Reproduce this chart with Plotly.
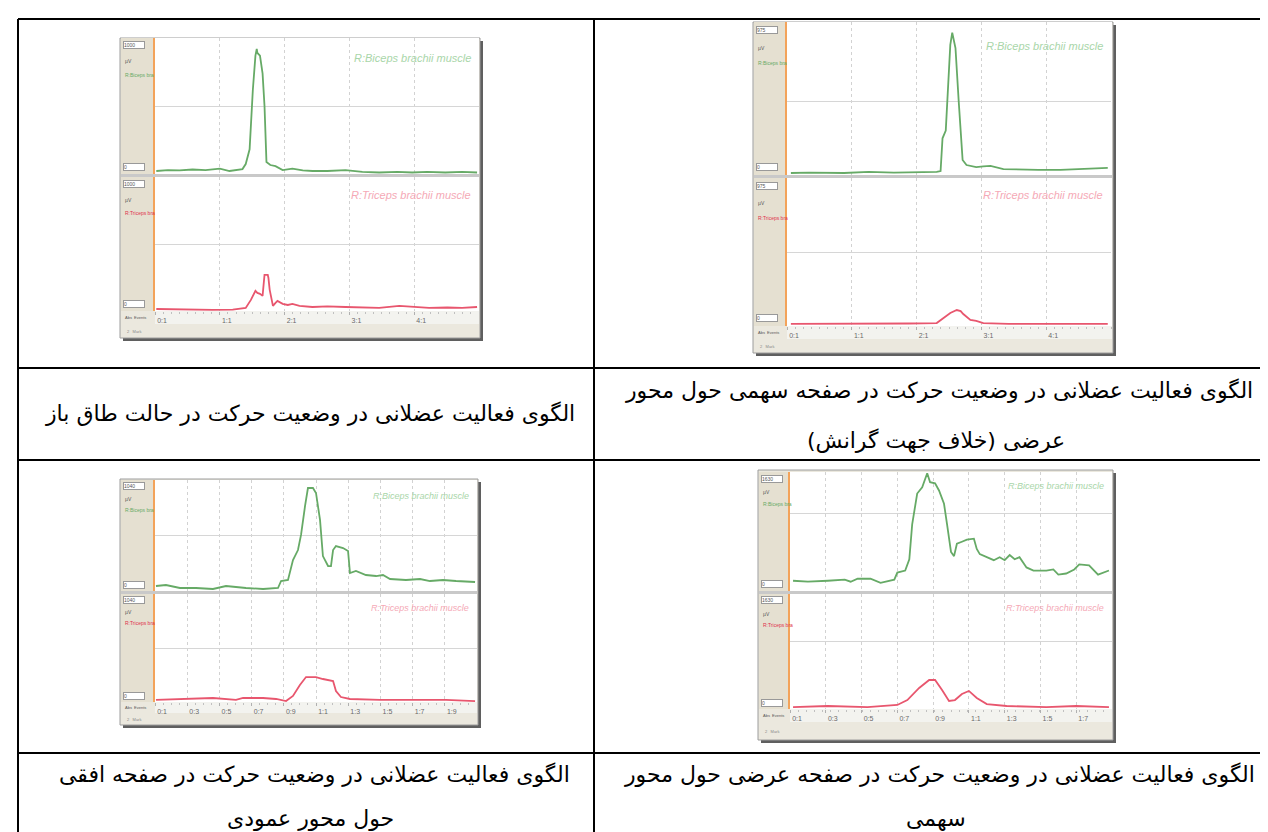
import plotly.graph_objects as go

W, H = 1268, 832

# ---------------- data (percent of channel full scale vs time) ----------------
# Chart A : supine (top-left)
a_t_bic = [0.02, 0.2, 0.38, 0.58, 0.78, 1.0, 1.15, 1.35, 1.4, 1.46, 1.51, 1.55, 1.57, 1.58, 1.62, 1.66, 1.69,
           1.72, 1.78, 1.86, 1.97, 2.12, 2.28, 2.43, 2.66, 2.94, 3.2, 3.46, 3.74, 3.97, 4.2, 4.48, 4.74, 4.97]
a_bic = [2.2, 2.9, 2.6, 3.3, 2.9, 4.0, 2.2, 3.6, 7.3, 18.2, 62, 87, 92, 89, 87, 74, 50,
         8.8, 6.6, 5.8, 2.9, 4.0, 2.6, 2.2, 2.2, 2.9, 1.5, 1.1, 1.5, 1.1, 1.5, 1.1, 1.5, 1.1]
a_t_tri = [0.02, 0.43, 0.89, 1.2, 1.4, 1.48, 1.52, 1.55, 1.58, 1.62, 1.66, 1.68, 1.69, 1.74, 1.75, 1.77, 1.82,
           1.86, 1.89, 1.97, 2.05, 2.12, 2.23, 2.43, 2.66, 2.94, 3.2, 3.46, 3.77, 3.97, 4.23, 4.51, 4.74, 4.97]
a_tri = [1.5, 1.1, 0.8, 1.1, 2.3, 8.3, 12.8, 15, 13.5, 12.8, 11.3, 21, 27, 27, 24.8, 15.8, 3.8,
         6, 7.5, 5.3, 4.5, 5.3, 3.8, 3, 3.4, 3, 2.6, 2.3, 3.8, 3, 2.3, 2.6, 2.3, 3]

# Chart B : sagittal plane, transverse axis (top-right)
b_t_bic = [0.06, 0.34, 0.88, 1.26, 1.65, 2.03, 2.31, 2.37, 2.4, 2.45, 2.49, 2.52, 2.55, 2.6,
           2.65, 2.68, 2.71, 2.77, 2.92, 3.03, 3.14, 3.34, 3.57, 3.88, 4.22, 4.49, 4.72, 4.95]
b_bic = [1.3, 1.6, 1.3, 2, 1.6, 2, 2, 2.6, 24, 29, 59, 85, 93, 83,
         48, 26, 9.8, 6.5, 5.2, 5.6, 5.9, 3.9, 3.6, 3.3, 3.3, 3.6, 3.9, 4.6]
b_t_tri = [0.06, 0.8, 1.38, 1.88, 2.31, 2.42, 2.52, 2.62, 2.68, 2.72, 2.83, 2.92, 3.03, 3.42, 3.95, 4.49, 4.95]
b_tri = [1.4, 1.4, 1.4, 1.7, 2, 5.4, 8.8, 10.8, 10.1, 8.1, 4.1, 3.4, 2, 1.4, 1.4, 1.7, 1.4]

# Chart C : horizontal plane, vertical axis (bottom-left)
c_t_bic = [0.106, 0.168, 0.255, 0.355, 0.46, 0.541, 0.665, 0.771, 0.864, 0.883, 0.926, 0.957, 0.988,
           1.007, 1.032, 1.05, 1.081, 1.1, 1.125, 1.143, 1.175, 1.193, 1.206, 1.224, 1.268, 1.299,
           1.311, 1.348, 1.41, 1.473, 1.516, 1.56, 1.659, 1.746, 1.808, 1.889, 1.97, 2.088]
c_bic = [4.5, 5.4, 2.7, 2.7, 1.8, 4.5, 2.7, 1.8, 2.7, 9, 9.9, 27.9, 36.9,
         50.5, 76.6, 92.8, 92.8, 88.3, 64, 31.5, 22.5, 22.5, 36.9, 40.5, 38.7, 36,
         16.2, 18, 14.4, 13.5, 14.4, 10.8, 9.9, 10.8, 9, 9.9, 9, 8.1]
c_t_tri = [0.106, 0.255, 0.46, 0.603, 0.647, 0.771, 0.852, 0.914, 0.957, 1.0, 1.038,
           1.1, 1.143, 1.206, 1.224, 1.255, 1.311, 1.498, 1.702, 1.907, 2.088]
c_tri = [1.9, 2.8, 3.7, 1.9, 3.7, 3.7, 2.8, 0.9, 5.6, 15.7, 23.1,
         23.1, 21.3, 19.4, 10.2, 4.6, 2.8, 1.9, 1.9, 1.9, 0.9]

# Chart D : frontal plane, sagittal axis (bottom-right)
d_t_bic = [0.117, 0.2, 0.311, 0.406, 0.439, 0.478, 0.55, 0.606, 0.683, 0.7, 0.744, 0.767, 0.783, 0.811,
           0.839, 0.867, 0.883, 0.911, 0.933, 0.961, 0.978, 1.0, 1.017, 1.033, 1.061, 1.089, 1.128,
           1.144, 1.161, 1.2, 1.239, 1.272, 1.3, 1.328, 1.356, 1.383, 1.422, 1.461, 1.533, 1.572,
           1.6, 1.644, 1.689, 1.717, 1.772, 1.822, 1.883]
d_bic = [8.6, 7.8, 8.6, 9.5, 7.8, 10.3, 10.3, 6.9, 9.5, 15.5, 17.2, 26.7, 56, 81.9,
         87.1, 99, 91.4, 90.5, 84.5, 73.3, 56, 32.8, 29.3, 39.7, 41.4, 43.1, 44,
         35.3, 31, 28.4, 25.9, 28.4, 25.9, 30.2, 26.7, 28.4, 19.8, 17.2, 17.2, 18.1,
         13.8, 14.7, 18.1, 22.4, 21.6, 13.8, 17.2]
d_t_tri = [0.117, 0.311, 0.533, 0.7, 0.756, 0.822, 0.878, 0.911, 0.95, 0.989, 1.022, 1.061,
           1.1, 1.144, 1.2, 1.311, 1.533, 1.7, 1.883]
d_tri = [1.7, 2.6, 1.7, 3.5, 7.8, 18.3, 25.2, 25.2, 16.5, 7, 7.8, 13,
         15.7, 9.6, 4.3, 2.6, 1.7, 2.6, 1.7]

# tick labels
ab_tickvals = [0, 1, 2, 3, 4]
ab_ticktext = ["0:1", "1:1", "2:1", "3:1", "4:1"]
cd_tickvals = [0.1, 0.3, 0.5, 0.7, 0.9, 1.1, 1.3, 1.5, 1.7, 1.9]
cd_ticktext = ["0:1", "0:3", "0:5", "0:7", "0:9", "1:1", "1:3", "1:5", "1:7", "1:9"]
full_scale = ["1000", "975", "1040", "1630"]
channel_names = ["R:Biceps brachii muscle", "R:Triceps brachii muscle"]
side_names = ["R:Biceps bra", "R:Triceps bra"]

# captions
RLM = "\u200f"
cap_top_left = "الگوی فعالیت عضلانی در وضعیت حرکت در حالت طاق باز"
cap_top_right_1 = "الگوی فعالیت عضلانی در وضعیت حرکت در صفحه سهمی حول محور"
cap_top_right_2 = RLM + "عرضی (خلاف جهت گرانش)" + RLM
cap_bot_left_1 = "الگوی فعالیت عضلانی در وضعیت حرکت در صفحه افقی"
cap_bot_left_2 = "حول محور عمودی"
cap_bot_right_1 = "الگوی فعالیت عضلانی در وضعیت حرکت در صفحه عرضی حول محور"
cap_bot_right_2 = "سهمی"

# ---------------- layout geometry (pixels) ----------------
charts = [
    dict(frame=(112, 30, 472, 330), side=147, pr=471, g=(30, 166), r=(169, 303), strip=316,
         xr=[0, 5], tv=ab_tickvals, tt=ab_ticktext, gg=50, rg=50, lab=(20, 18), lfs=11,
         bic=(a_t_bic, a_bic), tri=(a_t_tri, a_tri), fs=full_scale[0]),
    dict(frame=(745, 14, 1105, 345), side=779, pr=1103, g=(14, 167), r=(170, 318), strip=331,
         xr=[0, 5], tv=ab_tickvals, tt=ab_ticktext, gg=48, rg=50, lab=(24, 17), lfs=11,
         bic=(b_t_bic, b_bic), tri=(b_t_tri, b_tri), fs=full_scale[1]),
    dict(frame=(112, 471, 470, 717), side=147, pr=469, g=(472, 583), r=(586, 694), strip=705,
         xr=[0.1, 2.1], tv=cd_tickvals, tt=cd_ticktext, gg=50, rg=50, lab=(16, 14), lfs=9,
         bic=(c_t_bic, c_bic), tri=(c_t_tri, c_tri), fs=full_scale[2]),
    dict(frame=(750, 462, 1105, 732), side=782, pr=1104, g=(464, 583), r=(586, 701), strip=714,
         xr=[0.1, 1.9], tv=cd_tickvals[:9], tt=cd_ticktext[:9], gg=65, rg=59, lab=(14, 14), lfs=9,
         bic=(d_t_bic, d_bic), tri=(d_t_tri, d_tri), fs=full_scale[3]),
]

GREEN = "#66aa66"
RED = "#e8566e"
GREEN_LBL = "#a9d6a9"
RED_LBL = "#f5a9b6"
ORANGE = "#f3a35a"


def fx(x):
    return x / W


def fy(y):
    return 1 - y / H


shapes = []
annotations = []


def rect(x0, y0, x1, y1, fill, line=None, lw=0):
    shapes.append(dict(type="rect", xref="paper", yref="paper", layer="below",
                       x0=fx(x0), x1=fx(x1), y0=fy(y1), y1=fy(y0), fillcolor=fill,
                       line=dict(color=line or fill, width=lw)))


def line(x0, y0, x1, y1, color="black", width=2):
    shapes.append(dict(type="line", xref="paper", yref="paper", layer="above",
                       x0=fx(x0), x1=fx(x1), y0=fy(y0), y1=fy(y1),
                       line=dict(color=color, width=width)))


def note(x, y, text, size, color="black", xanchor="center", family="DejaVu Sans", **kw):
    annotations.append(dict(xref="paper", yref="paper", x=fx(x), y=fy(y), text=text,
                            showarrow=False, xanchor=xanchor, yanchor="middle",
                            font=dict(size=size, color=color, family=family), **kw))


fig = go.Figure()
layout_axes = {}

for i, c in enumerate(charts):
    x0, y0, x1, y1 = c["frame"]
    side, pr = c["side"], c["pr"]
    gt, gb = c["g"]
    rt, rb = c["r"]
    # frame decoration
    rect(x0 + 3, y0 + 3, x1 + 3, y1 + 3, "#5f5f5f")
    rect(x0, y0, x1, y1, "#ebe8de", "#9c9c9c", 1)
    rect(x0 + 1, gt, side, rb, "#e5e0d1")
    rect(side, gt, x1 - 1, gb, "white")
    rect(x0 + 1, gb, x1 - 1, rt, "#c9c9c9")
    rect(side, rt, x1 - 1, rb, "white")
    rect(side, rb, x1 - 1, c["strip"], "#f3f3ef")

    for k, (top, bot, col, series, grid) in enumerate(
            [(gt, gb, GREEN, c["bic"], c["gg"]), (rt, rb, RED, c["tri"], c["rg"])]):
        n = 2 * i + k + 1
        xa = "xaxis" if n == 1 else f"xaxis{n}"
        ya = "yaxis" if n == 1 else f"yaxis{n}"
        xr_ = "x" if n == 1 else f"x{n}"
        yr_ = "y" if n == 1 else f"y{n}"
        is_red = k == 1
        span = c["xr"][1] - c["xr"][0]
        layout_axes[xa] = dict(
            domain=[fx(side), fx(pr)], anchor=yr_, range=c["xr"], tickvals=c["tv"],
            ticktext=c["tt"], showgrid=True, gridcolor="#d2d2d2", griddash="dot", gridwidth=1,
            zeroline=False, showline=False, showticklabels=is_red, fixedrange=True,
            tickfont=dict(size=7, color="#6a6a6a", family="Liberation Sans"),
            ticks="outside" if is_red else "", ticklen=3, tickcolor="#b0b0b0",
            ticklabelshift=7, ticklabelstandoff=0,
            minor=dict(ticks="outside" if is_red else "", ticklen=2, tickcolor="#c0c0c0",
                       dtick=span / 40, tick0=c["xr"][0], showgrid=False),
        )
        layout_axes[ya] = dict(
            domain=[fy(bot), fy(top)], anchor=xr_, range=[0, 100], tickvals=[grid],
            showgrid=True, gridcolor="#d6d6d6", gridwidth=1, zeroline=False,
            showticklabels=False, ticks="", showline=True, linecolor=ORANGE, linewidth=2,
            fixedrange=True,
        )
        fig.add_trace(go.Scatter(x=series[0], y=series[1], xaxis=xr_, yaxis=yr_, mode="lines",
                                 line=dict(color=col, width=1.8), hoverinfo="skip",
                                 showlegend=False))
        # channel label in plot
        dy = c["lab"][k]
        note(pr - 6, top + dy, "<i>" + channel_names[k] + "</i>", c["lfs"],
             GREEN_LBL if k == 0 else RED_LBL, xanchor="right", family="Liberation Sans")
        # sidebar decorations
        h = bot - top
        sx = x0 + 3
        note(sx, top + 0.055 * h, c["fs"], 5, "#555", xanchor="left", family="Liberation Sans",
             bgcolor="white", bordercolor="#999", borderwidth=1, borderpad=0, width=20, align="left")
        note(sx, top + 0.17 * h, "µV", 5, "#555", xanchor="left", family="Liberation Sans")
        note(sx, top + 0.27 * h, side_names[k], 5, GREEN if k == 0 else "#e0304a",
             xanchor="left", family="Liberation Sans")
        note(sx, bot - 0.055 * h, "0", 5, "#555", xanchor="left", family="Liberation Sans",
             bgcolor="white", bordercolor="#999", borderwidth=1, borderpad=0, width=20, align="left")
    # footer texts
    note(x0 + 3, (rb + c["strip"]) / 2, "Abs  Events", 4, "#555", xanchor="left",
         family="Liberation Sans")
    note(x0 + 5, (c["strip"] + y1) / 2, "2   Mark", 4, "#888", xanchor="left",
         family="Liberation Sans")

# ---------------- table ----------------
TOP, R1, R2, R3 = 11, 360, 452, 745
LEFT, MID, RIGHT = 10, 586, 1268
for yy in (TOP, R1, R2, R3):
    line(LEFT, yy, RIGHT, yy)
line(LEFT, TOP, LEFT, H)
line(MID, TOP, MID, H)

CAP = 22
note((LEFT + MID) / 2 + 4, 406, cap_top_left, CAP)
note(931, 382, cap_top_right_1, CAP)
note(928, 433, cap_top_right_2, CAP)
note((LEFT + MID) / 2 + 8, 766, cap_bot_left_1, CAP)
note((LEFT + MID) / 2 + 4, 810, cap_bot_left_2, CAP)
note(931, 766, cap_bot_right_1, CAP)
note(928, 810, cap_bot_right_2, CAP)

fig.update_layout(
    width=W, height=H, margin=dict(l=0, r=0, t=0, b=0),
    paper_bgcolor="white", plot_bgcolor="rgba(0,0,0,0)",
    shapes=shapes, annotations=annotations, showlegend=False,
    **layout_axes,
)

fig.write_html("out.html")
